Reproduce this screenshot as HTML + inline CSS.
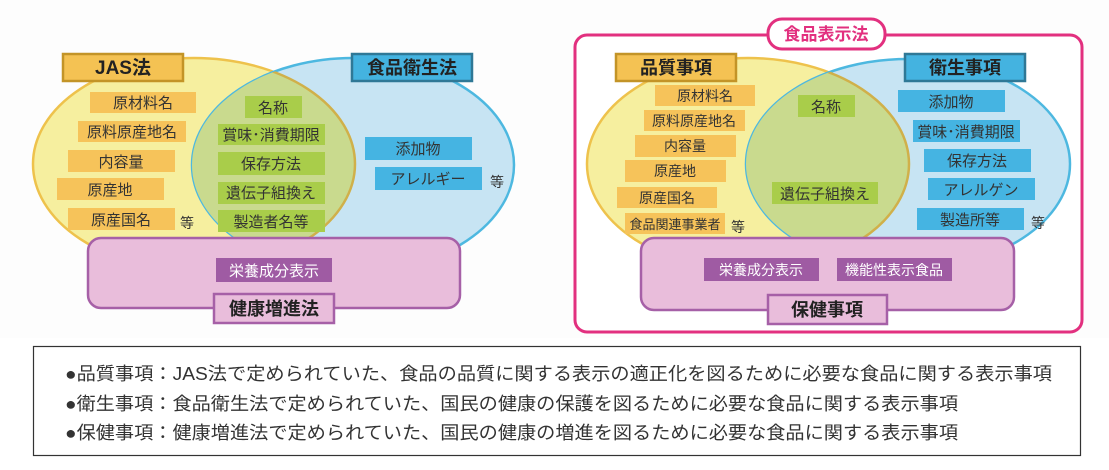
<!DOCTYPE html>
<html><head><meta charset="utf-8"><style>
html,body{margin:0;padding:0;background:#fff;}
svg{display:block;}
text{font-family:"Liberation Sans","Noto Sans CJK JP",sans-serif;}
</style></head><body>
<svg width="1109" height="470" viewBox="0 0 1109 470" xmlns="http://www.w3.org/2000/svg">
<defs>
<clipPath id="cb1"><ellipse cx="353" cy="165" rx="161" ry="107"/></clipPath>
<clipPath id="cb2"><ellipse cx="908" cy="164" rx="162" ry="105"/></clipPath>
</defs>
<rect x="0" y="0" width="1109" height="338" fill="#fdfdfd"/>

<!-- LEFT DIAGRAM -->
<ellipse cx="194" cy="164" rx="161" ry="106" fill="#f6ef9f" stroke="#eec24c" stroke-width="2.5"/>
<ellipse cx="353" cy="165" rx="161" ry="107" fill="#c7e4f3" stroke="#4db8e0" stroke-width="2.5"/>
<ellipse cx="194" cy="164" rx="161" ry="106" fill="#c9da8e" stroke="#d0b04a" stroke-width="2.5" clip-path="url(#cb1)"/>

<rect x="63" y="54" width="120" height="27" fill="#f4c253" stroke="#c39427" stroke-width="2.5"/>
<text x="123" y="74" font-size="19" font-weight="bold" text-anchor="middle" fill="#222">JAS法</text>
<rect x="352" y="54" width="120" height="27" fill="#44b3e0" stroke="#2f7896" stroke-width="2.5"/>
<text x="412" y="74" font-size="18" font-weight="bold" text-anchor="middle" fill="#222">食品衛生法</text>

<g fill="#f6c35a">
<rect x="90" y="92" width="106" height="21"/><rect x="78" y="121" width="108" height="21"/>
<rect x="68" y="150" width="107" height="22"/><rect x="57" y="178" width="107" height="22"/>
<rect x="68" y="208" width="107" height="22"/>
</g>
<g font-size="15" fill="#333" text-anchor="middle">
<text x="143" y="108">原材料名</text><text x="132" y="137">原料原産地名</text>
<text x="121" y="167">内容量</text><text x="110" y="195">原産地</text><text x="121" y="225">原産国名</text>
<text x="187" y="228" font-size="14">等</text>
</g>
<g fill="#a9cd4a">
<rect x="245" y="96" width="57" height="22"/><rect x="218" y="124" width="107" height="21"/>
<rect x="218" y="152" width="107" height="23"/><rect x="218" y="182" width="107" height="22"/>
<rect x="218" y="210" width="107" height="22"/>
</g>
<g font-size="15" fill="#333" text-anchor="middle">
<text x="273" y="113">名称</text><text x="271" y="140">賞味･消費期限</text>
<text x="271" y="169">保存方法</text><text x="271" y="198">遺伝子組換え</text><text x="271" y="227">製造者名等</text>
</g>
<g fill="#45b4e2"><rect x="365" y="137" width="107" height="23"/><rect x="375" y="167" width="107" height="23"/></g>
<g font-size="15" fill="#333" text-anchor="middle">
<text x="418" y="154">添加物</text><text x="428" y="184">アレルギー</text>
<text x="497" y="187" font-size="14">等</text>
</g>

<rect x="88" y="238" width="372" height="70" rx="13" fill="#e9bddb" stroke="#a660a7" stroke-width="2.5"/>
<rect x="216" y="258" width="116" height="24" fill="#9f5ba3"/>
<text x="274" y="276" font-size="15" fill="#fff" text-anchor="middle">栄養成分表示</text>
<rect x="214" y="294" width="120" height="29" fill="#e9bddb" stroke="#a660a7" stroke-width="2.5"/>
<text x="274" y="315" font-size="18" font-weight="bold" fill="#222" text-anchor="middle">健康増進法</text>

<!-- RIGHT DIAGRAM -->
<rect x="575" y="35" width="507" height="297" rx="12" fill="#fff" stroke="#e2307f" stroke-width="3"/>
<ellipse cx="748" cy="164" rx="161" ry="106" fill="#f6ef9f" stroke="#eec24c" stroke-width="2.5"/>
<ellipse cx="908" cy="164" rx="162" ry="105" fill="#c7e4f3" stroke="#4db8e0" stroke-width="2.5"/>
<ellipse cx="748" cy="164" rx="161" ry="106" fill="#c9da8e" stroke="#d0b04a" stroke-width="2.5" clip-path="url(#cb2)"/>

<rect x="768" y="19" width="117" height="30" rx="14" fill="#fff" stroke="#e2307f" stroke-width="3"/>
<text x="826" y="40" font-size="17" font-weight="bold" fill="#e2307f" text-anchor="middle">食品表示法</text>

<rect x="616" y="54" width="120" height="27" fill="#f4c253" stroke="#c39427" stroke-width="2.5"/>
<text x="676" y="74" font-size="18" font-weight="bold" text-anchor="middle" fill="#222">品質事項</text>
<rect x="905" y="54" width="120" height="27" fill="#44b3e0" stroke="#2f7896" stroke-width="2.5"/>
<text x="965" y="74" font-size="18" font-weight="bold" text-anchor="middle" fill="#222">衛生事項</text>

<g fill="#f6c35a">
<rect x="655" y="85" width="100" height="21"/><rect x="644" y="110" width="101" height="21"/>
<rect x="635" y="135" width="101" height="22"/><rect x="625" y="160" width="101" height="22"/>
<rect x="617" y="187" width="100" height="21"/><rect x="625" y="213" width="100" height="21"/>
</g>
<g font-size="14" fill="#333" text-anchor="middle">
<text x="705" y="101">原材料名</text><text x="694" y="126">原料原産地名</text>
<text x="685" y="151">内容量</text><text x="675" y="176">原産地</text><text x="667" y="203">原産国名</text>
<text x="675" y="229" font-size="13">食品関連事業者</text>
<text x="738" y="232" font-size="14">等</text>
</g>
<g fill="#a9cd4a"><rect x="798" y="95" width="57" height="22"/><rect x="772" y="182" width="106" height="22"/></g>
<g font-size="15" fill="#333" text-anchor="middle">
<text x="826" y="112">名称</text><text x="825" y="199">遺伝子組換え</text>
</g>
<g fill="#45b4e2">
<rect x="898" y="90" width="107" height="22"/><rect x="913" y="120" width="107" height="22"/>
<rect x="924" y="149" width="107" height="23"/><rect x="928" y="178" width="107" height="22"/>
<rect x="917" y="208" width="107" height="22"/>
</g>
<g font-size="15" fill="#333" text-anchor="middle">
<text x="951" y="107">添加物</text><text x="966" y="137">賞味･消費期限</text>
<text x="977" y="166">保存方法</text><text x="981" y="195">アレルゲン</text><text x="970" y="225">製造所等</text>
<text x="1038" y="228" font-size="14">等</text>
</g>

<rect x="641" y="238" width="373" height="72" rx="13" fill="#e9bddb" stroke="#a660a7" stroke-width="2.5"/>
<g fill="#9f5ba3"><rect x="704" y="258" width="115" height="23"/><rect x="837" y="258" width="115" height="23"/></g>
<g font-size="14" fill="#fff" text-anchor="middle">
<text x="761" y="275">栄養成分表示</text><text x="894" y="275">機能性表示食品</text>
</g>
<rect x="768" y="295" width="119" height="29" fill="#e9bddb" stroke="#a660a7" stroke-width="2.5"/>
<text x="827" y="316" font-size="18" font-weight="bold" fill="#222" text-anchor="middle">保健事項</text>

<!-- BOTTOM BOX -->
<rect x="33.5" y="346.5" width="1047" height="109" fill="#fff" stroke="#333" stroke-width="1.2"/>
<g font-size="18" fill="#333">
<text x="65" y="380" textLength="987" lengthAdjust="spacingAndGlyphs">●品質事項：JAS法で定められていた、食品の品質に関する表示の適正化を図るために必要な食品に関する表示事項</text>
<text x="65" y="410" textLength="893" lengthAdjust="spacingAndGlyphs">●衛生事項：食品衛生法で定められていた、国民の健康の保護を図るために必要な食品に関する表示事項</text>
<text x="65" y="439" textLength="893" lengthAdjust="spacingAndGlyphs">●保健事項：健康増進法で定められていた、国民の健康の増進を図るために必要な食品に関する表示事項</text>
</g>
</svg>
</body></html>
